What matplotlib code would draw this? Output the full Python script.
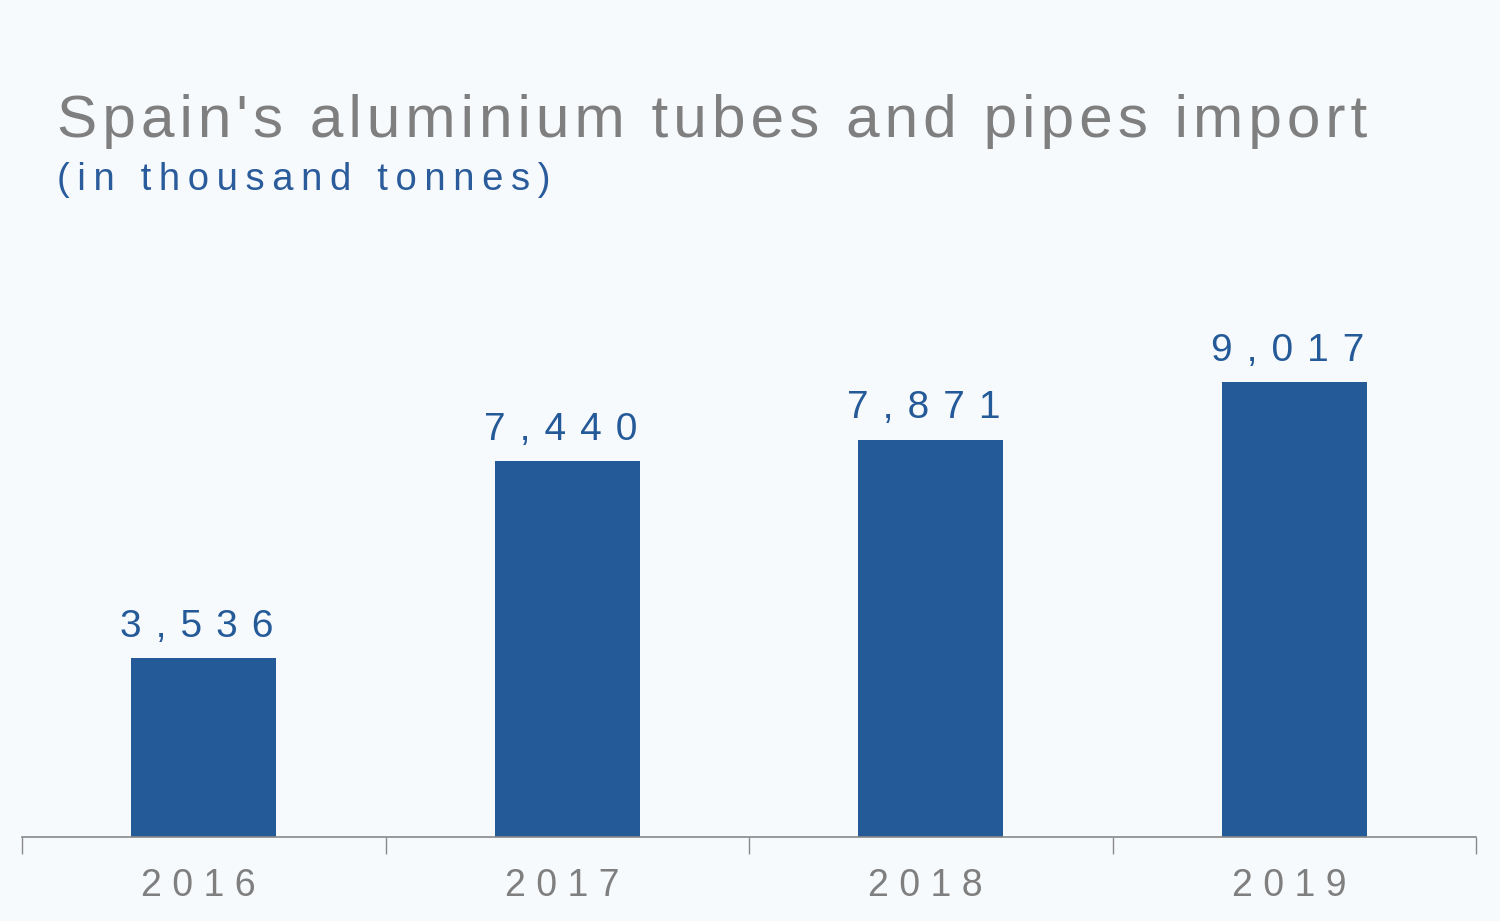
import matplotlib
matplotlib.use("Agg")
import matplotlib.pyplot as plt

# data
years = ["2016", "2017", "2018", "2019"]
imports = [3536, 7440, 7871, 9017]

title = "Spain's aluminium tubes and pipes import"
subtitle = "(in thousand tonnes)"

bar_col = "#255a99"
grey = "#7f7f7f"
bg = "#f7fafd"

plt.rcParams['font.family'] = ['Liberation Sans', 'DejaVu Sans']


def spaced(s, gap="\u2009", trail=False):
    # wide letter spacing like the original
    out = gap.join(s)
    if trail:
        out += gap
    return out


fig = plt.figure(figsize=(15, 9.21), dpi=100, facecolor=bg)
ax = fig.add_axes([22 / 1500, 84 / 921, 1454 / 1500, 505 / 921])
ax.set_facecolor(bg)

x = range(len(years))
ax.bar(x, imports, width=0.4, color=bar_col, zorder=2)
ax.set_xlim(-0.5, len(years) - 0.5)
ax.set_ylim(0, 10000)

for xi, v in zip(x, imports):
    ax.text(xi, v + 260, spaced(f"{v:,}", " \u200a", trail=True), ha="center",
            va="bottom", fontsize=28, color=bar_col)

# category boundary ticks
ax.set_xticks([i - 0.5 for i in range(len(years) + 1)], minor=False)
ax.set_xticklabels([])
ax.tick_params(axis="x", length=12, width=1, color="#888888", direction="out")
ax.set_xticks(list(x), minor=True)
ax.set_xticklabels([spaced(y, " ", trail=True) for y in years], minor=True)
ax.tick_params(axis="x", which="minor", length=0, pad=22, labelsize=27,
               labelcolor=grey)
ax.set_yticks([])
for s in ["top", "right", "left"]:
    ax.spines[s].set_visible(False)
ax.spines["bottom"].set_color("#888888")
ax.spines["bottom"].set_linewidth(1.2)

fig.text(57 / 1500, 1 - 137 / 921, spaced(title, "\u200a"), fontsize=43.5,
         color=grey, ha="left", va="baseline")
fig.text(57 / 1500, 1 - 190 / 921, spaced(subtitle), fontsize=27.5,
         color="#2a5b9b", ha="left", va="baseline")

fig.savefig("out.png", dpi=100, facecolor=bg)
